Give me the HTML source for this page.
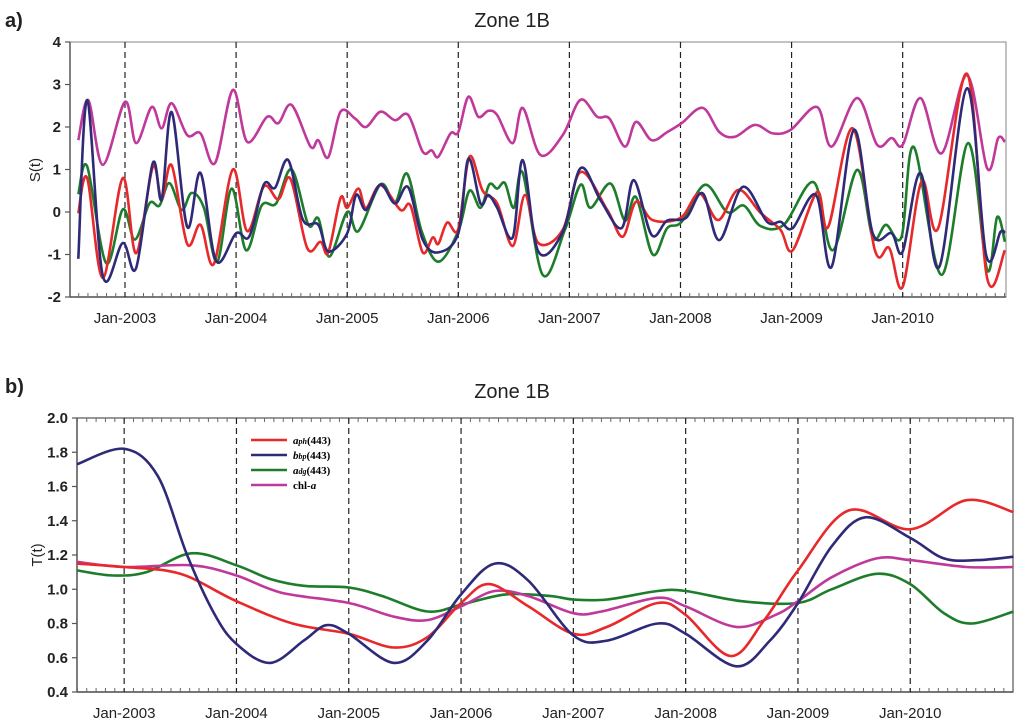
<!DOCTYPE html>
<html><head><meta charset="utf-8">
<style>
html,body{margin:0;padding:0;background:#fff;}
svg{display:block;font-family:"Liberation Sans",sans-serif;}
</style></head>
<body>
<svg id="chart" width="1024" height="725" viewBox="0 0 1024 725">
  <text x="5" y="27" font-size="20" font-weight="bold" fill="#222">a)</text>
  <text x="512" y="27" font-size="20" text-anchor="middle" fill="#222">Zone 1B</text>
  <text transform="translate(40,170) rotate(-90)" font-size="15" text-anchor="middle" fill="#222">S(t)</text>
  <text x="5" y="393" font-size="20" font-weight="bold" fill="#222">b)</text>
  <text x="512" y="398" font-size="20" text-anchor="middle" fill="#222">Zone 1B</text>
  <text transform="translate(42,555) rotate(-90)" font-size="15" text-anchor="middle" fill="#222">T(t)</text>
  <g id="pa"></g>
  <g id="pb"></g>
  <g id="legend">
    <line x1="251" y1="440" x2="287" y2="440" stroke="#e8292b" stroke-width="2.5"/>
    <text x="293" y="444" font-family="Liberation Serif,serif" font-size="11" font-weight="bold"><tspan font-style="italic">a</tspan><tspan font-style="italic" font-size="8">ph</tspan>(443)</text>
    <line x1="251" y1="455" x2="287" y2="455" stroke="#2e2a78" stroke-width="2.5"/>
    <text x="293" y="459" font-family="Liberation Serif,serif" font-size="11" font-weight="bold"><tspan font-style="italic">b</tspan><tspan font-style="italic" font-size="8">bp</tspan>(443)</text>
    <line x1="251" y1="470" x2="287" y2="470" stroke="#1e7d2a" stroke-width="2.5"/>
    <text x="293" y="474" font-family="Liberation Serif,serif" font-size="11" font-weight="bold"><tspan font-style="italic">a</tspan><tspan font-style="italic" font-size="8">dg</tspan>(443)</text>
    <line x1="251" y1="485" x2="287" y2="485" stroke="#c0399a" stroke-width="2.5"/>
    <text x="293" y="489" font-family="Liberation Serif,serif" font-size="11" font-weight="bold">chl-<tspan font-style="italic">a</tspan></text>
  </g>
</svg>
<script>
const yearTicks = [2003,2004,2005,2006,2007,2008,2009,2010];
const yearLabels = ["Jan-2003","Jan-2004","Jan-2005","Jan-2006","Jan-2007","Jan-2008","Jan-2009","Jan-2010"];
const aYTicks = [-2,-1,0,1,2,3,4];
const bYTicks = [0.4,0.6,0.8,1.0,1.2,1.4,1.6,1.8,2.0];
const bYLabels = ["0.4","0.6","0.8","1.0","1.2","1.4","1.6","1.8","2.0"];

// Panel a seasonal components S(t)
const aChlT = [2002.58,2002.67,2002.8,2003.0,2003.1,2003.24,2003.33,2003.42,2003.56,2003.68,2003.81,2003.97,2004.1,2004.28,2004.38,2004.5,2004.67,2004.74,2004.83,2004.94,2005.07,2005.17,2005.3,2005.43,2005.55,2005.68,2005.76,2005.82,2005.93,2006.0,2006.09,2006.18,2006.27,2006.35,2006.49,2006.58,2006.74,2006.94,2007.1,2007.25,2007.36,2007.5,2007.6,2007.74,2007.88,2008.01,2008.2,2008.35,2008.49,2008.67,2008.83,2008.99,2009.23,2009.36,2009.59,2009.77,2009.9,2010.0,2010.16,2010.35,2010.58,2010.76,2010.86,2010.92];
const aChlV = [1.69,2.63,1.11,2.59,1.62,2.47,1.97,2.56,1.81,1.85,1.15,2.87,1.65,2.24,2.09,2.52,1.54,1.69,1.29,2.36,2.2,2.0,2.36,2.16,2.28,1.42,1.45,1.3,1.85,1.88,2.71,2.24,2.38,2.28,1.62,2.45,1.34,1.81,2.64,2.24,2.2,1.54,2.12,1.69,1.88,2.09,2.45,1.88,1.77,2.05,1.85,1.93,2.47,1.54,2.68,1.58,1.74,1.58,2.68,1.38,3.22,1.03,1.74,1.65];
const aAphT = [2002.58,2002.66,2002.8,2002.98,2003.1,2003.25,2003.33,2003.42,2003.56,2003.68,2003.8,2003.97,2004.1,2004.25,2004.38,2004.49,2004.64,2004.76,2004.83,2004.94,2005.0,2005.1,2005.17,2005.3,2005.48,2005.57,2005.68,2005.77,2005.82,2005.9,2006.0,2006.1,2006.22,2006.35,2006.49,2006.6,2006.72,2006.94,2007.1,2007.34,2007.48,2007.6,2007.75,2008.0,2008.17,2008.34,2008.52,2008.72,2008.9,2009.01,2009.23,2009.33,2009.55,2009.75,2009.88,2010.0,2010.17,2010.32,2010.58,2010.76,2010.92];
const aAphV = [-0.03,0.8,-1.55,0.8,-0.97,1.06,0.3,1.1,-0.75,-0.3,-1.22,1.0,-0.45,0.6,0.3,0.78,-0.85,-0.7,-0.95,0.33,0.1,0.55,0.1,0.63,0.05,0.15,-0.95,-0.6,-0.75,-0.25,-0.4,1.3,0.5,0.2,-0.8,0.4,-0.73,-0.42,0.94,0.05,-0.58,0.24,-0.19,-0.14,0.44,-0.19,0.52,-0.02,-0.42,-0.9,0.47,-0.35,1.97,-0.9,-0.85,-1.76,0.72,-0.38,3.25,-1.55,-0.9];
const aBbpT = [2002.58,2002.66,2002.8,2002.98,2003.1,2003.25,2003.33,2003.42,2003.56,2003.68,2003.82,2004.0,2004.12,2004.25,2004.35,2004.47,2004.6,2004.74,2004.83,2005.0,2005.08,2005.17,2005.3,2005.43,2005.55,2005.68,2005.82,2006.0,2006.09,2006.2,2006.27,2006.35,2006.49,2006.58,2006.72,2006.94,2007.1,2007.28,2007.47,2007.58,2007.74,2007.88,2008.05,2008.2,2008.35,2008.56,2008.78,2008.9,2009.01,2009.22,2009.36,2009.56,2009.73,2009.9,2010.0,2010.16,2010.33,2010.58,2010.75,2010.88,2010.92];
const aBbpV = [-1.1,2.63,-1.5,-0.73,-1.32,1.15,0.3,2.35,-0.35,0.92,-1.15,-0.5,-0.57,0.65,0.57,1.22,-0.18,-0.3,-0.93,-0.5,0.4,0.05,0.65,0.2,0.58,-0.65,-0.95,-0.5,1.25,0.2,0.4,0.1,-0.6,1.22,-0.93,-0.47,1.03,0.28,-0.38,0.75,-0.54,-0.2,-0.14,0.44,-0.66,0.59,-0.23,-0.23,-0.38,0.4,-1.29,1.93,-0.5,-0.5,-0.93,0.92,-1.29,2.91,-1.0,-0.47,-0.5];
const aAdgT = [2002.58,2002.66,2002.83,2002.98,2003.09,2003.22,2003.31,2003.4,2003.51,2003.6,2003.71,2003.83,2003.96,2004.09,2004.23,2004.36,2004.5,2004.65,2004.74,2004.84,2005.0,2005.1,2005.3,2005.43,2005.54,2005.67,2005.82,2006.0,2006.1,2006.2,2006.28,2006.35,2006.42,2006.5,2006.58,2006.76,2006.96,2007.1,2007.19,2007.37,2007.5,2007.6,2007.75,2007.88,2008.01,2008.22,2008.42,2008.57,2008.72,2008.93,2009.2,2009.37,2009.59,2009.73,2009.85,2009.99,2010.1,2010.35,2010.59,2010.76,2010.85,2010.92];
const aAdgV = [0.42,1.07,-1.2,0.06,-0.65,0.2,0.15,0.68,0.05,0.45,0.1,-1.17,0.55,-0.9,0.15,0.2,1.0,-0.3,-0.15,-1.05,0.0,-0.45,0.65,0.22,0.9,-0.45,-1.17,-0.45,0.5,0.1,0.65,0.55,0.68,0.1,0.92,-1.48,-0.42,0.64,0.1,0.67,-0.2,0.35,-1.0,-0.38,-0.23,0.64,0.0,0.15,-0.33,-0.3,0.7,-0.9,0.99,-0.6,-0.3,-0.58,1.53,-1.48,1.62,-1.36,-0.12,-0.7];

// Panel b trend components T(t)
const bAphT = [2002.58,2003.0,2003.5,2004.0,2004.5,2005.0,2005.4,2005.7,2006.0,2006.25,2006.6,2007.0,2007.3,2007.75,2008.0,2008.4,2008.7,2009.0,2009.45,2010.0,2010.5,2010.92];
const bAphV = [1.15,1.13,1.09,0.93,0.80,0.74,0.66,0.72,0.92,1.03,0.90,0.74,0.78,0.92,0.85,0.61,0.82,1.11,1.46,1.35,1.52,1.45];
const bBbpT = [2002.58,2003.0,2003.3,2003.56,2003.8,2004.0,2004.3,2004.6,2004.8,2005.0,2005.4,2005.7,2006.0,2006.3,2006.6,2007.0,2007.3,2007.75,2008.0,2008.45,2008.75,2009.0,2009.3,2009.6,2010.0,2010.3,2010.6,2010.92];
const bBbpV = [1.73,1.82,1.66,1.20,0.86,0.68,0.57,0.70,0.79,0.74,0.57,0.70,0.97,1.15,1.05,0.73,0.70,0.80,0.74,0.55,0.70,0.92,1.25,1.42,1.30,1.18,1.17,1.19];
const bAdgT = [2002.58,2002.9,2003.2,2003.6,2004.0,2004.3,2004.6,2005.0,2005.3,2005.7,2006.0,2006.4,2006.8,2007.0,2007.3,2007.75,2008.0,2008.5,2009.0,2009.3,2009.7,2010.0,2010.3,2010.55,2010.92];
const bAdgV = [1.11,1.08,1.10,1.21,1.14,1.06,1.02,1.01,0.96,0.87,0.91,0.97,0.96,0.94,0.94,0.99,0.99,0.93,0.92,1.00,1.09,1.03,0.86,0.80,0.87];
const bChlT = [2002.58,2003.0,2003.6,2004.0,2004.4,2005.0,2005.4,2005.7,2006.0,2006.3,2006.6,2007.0,2007.25,2007.75,2008.0,2008.45,2008.8,2009.0,2009.3,2009.7,2010.0,2010.5,2010.92];
const bChlV = [1.16,1.13,1.14,1.08,0.98,0.92,0.84,0.82,0.90,0.99,0.96,0.86,0.87,0.95,0.90,0.78,0.85,0.93,1.07,1.18,1.17,1.13,1.13];

const NS = "http://www.w3.org/2000/svg";
function mk(tag, parent, attrs){
  const e = document.createElementNS(NS, tag);
  for (const k in attrs) e.setAttribute(k, attrs[k]);
  parent.appendChild(e); return e;
}
function smooth(pts){
  let d = "M"+pts[0][0].toFixed(1)+","+pts[0][1].toFixed(1);
  for (let i=0;i<pts.length-1;i++){
    const p0=pts[Math.max(0,i-1)], p1=pts[i], p2=pts[i+1], p3=pts[Math.min(pts.length-1,i+2)];
    const c1x=p1[0]+(p2[0]-p0[0])/6, c1y=p1[1]+(p2[1]-p0[1])/6;
    const c2x=p2[0]-(p3[0]-p1[0])/6, c2y=p2[1]-(p3[1]-p1[1])/6;
    d+=" C"+c1x.toFixed(1)+","+c1y.toFixed(1)+" "+c2x.toFixed(1)+","+c2y.toFixed(1)+" "+p2[0].toFixed(1)+","+p2[1].toFixed(1);
  }
  return d;
}

function panel(g, cfg){
  const {L,R,T,B,x0,x1,y0,y1} = cfg;
  const sx = t => L + (t-x0)/(x1-x0)*(R-L);
  const sy = v => B - (v-y0)/(y1-y0)*(B-T);
  const fr = mk("rect", g, {x:L,y:T,width:R-L,height:B-T,fill:"none",stroke:cfg.frame,"stroke-width":1.2});
  
  
  mk("line", g, {x1:L,y1:T,x2:L,y2:B,stroke:"#555","stroke-width":1.4});
  mk("line", g, {x1:L,y1:B,x2:R,y2:B,stroke:"#555","stroke-width":1.4});
  for (let m=Math.ceil(x0*12); m<=x1*12; m++){
    const x = sx(m/12);
    if (x<L||x>R) continue;
    mk("line", g, {x1:x,y1:B,x2:x,y2:B-4,stroke:"#666","stroke-width":1});
    if (cfg.topTicks) mk("line", g, {x1:x,y1:T,x2:x,y2:T+4,stroke:"#666","stroke-width":1});
  }
  yearTicks.forEach((yr,i)=>{
    const x = sx(yr);
    const ln = mk("line", g, {x1:x,y1:T,x2:x,y2:B,stroke:"#222","stroke-width":1.2,"stroke-dasharray":"6,4"});
    
    
    const tx = mk("text", g, {x:x,y:B+26,"font-size":15,"text-anchor":"middle",fill:"#222"});
    tx.textContent = yearLabels[i];
    
    
  });
  cfg.yTicks.forEach((v,i)=>{
    const y = sy(v);
    mk("line", g, {x1:L-5,y1:y,x2:L,y2:y,stroke:"#555","stroke-width":1.2});
    const tx = mk("text", g, {x:L-9,y:y+5,"font-size":15,"font-weight":"bold","text-anchor":"end",fill:"#222"});
    tx.textContent = cfg.yLabels ? cfg.yLabels[i] : String(v);
    
    
  });
  cfg.series.forEach(s=>{
    const pts = s.t.map((t,i)=>[sx(t), sy(s.v[i])]);
    const p = mk("path", g, {d:smooth(pts),fill:"none",stroke:s.c,"stroke-width":2.6,"stroke-linejoin":"round"});
    
    
  });
}

panel(document.getElementById("pa"), {L:70,R:1006,T:42,B:297,x0:2002.505,x1:2010.93,y0:-2,y1:4,
  yTicks:aYTicks, frame:"#999", topTicks:false,
  series:[
    {name:"chl-a-seasonal-line",t:aChlT,v:aChlV,c:"#c0399a"},
    {name:"adg-seasonal-line",t:aAdgT,v:aAdgV,c:"#1e7d2a"},
    {name:"aph-seasonal-line",t:aAphT,v:aAphV,c:"#e8292b"},
    {name:"bbp-seasonal-line",t:aBbpT,v:aBbpV,c:"#2e2a78"}
  ]});

panel(document.getElementById("pb"), {L:77,R:1013,T:418,B:692,x0:2002.58,x1:2010.915,y0:0.4,y1:2.0,
  yTicks:bYTicks, yLabels:bYLabels, frame:"#555", topTicks:true,
  series:[
    {name:"adg-trend-line",t:bAdgT,v:bAdgV,c:"#1e7d2a"},
    {name:"chl-a-trend-line",t:bChlT,v:bChlV,c:"#c0399a"},
    {name:"aph-trend-line",t:bAphT,v:bAphV,c:"#e8292b"},
    {name:"bbp-trend-line",t:bBbpT,v:bBbpV,c:"#2e2a78"}
  ]});
</script>
</body></html>
